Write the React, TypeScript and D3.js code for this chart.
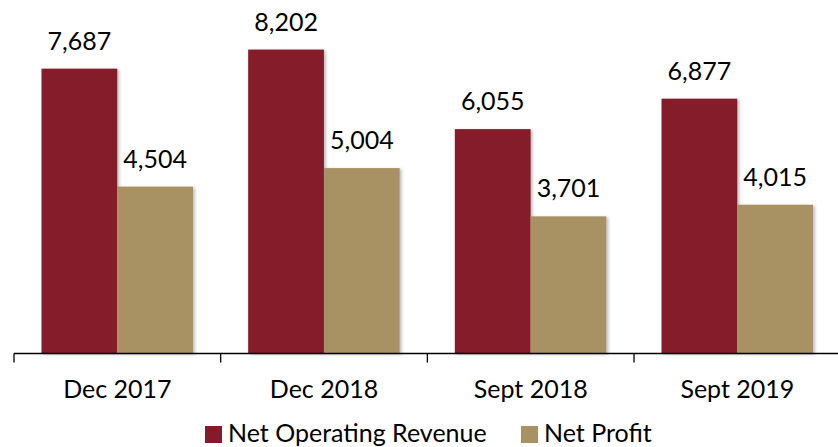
import React, { useEffect, useRef } from 'react';
import * as d3 from 'd3';

const width = 838;
const height = 447;

const categories = ['Dec 2017', 'Dec 2018', 'Sept 2018', 'Sept 2019'];
const seriesNames = ['Net Operating Revenue', 'Net Profit'];
const revenue = [7687, 8202, 6055, 6877];
const profit = [4504, 5004, 3701, 4015];
const colors = ['#841a2a', '#a89263'];

const font = 'Lato, Calibri, sans-serif';

const App: React.FC = () => {
  const ref = useRef<HTMLDivElement>(null);

  useEffect(() => {
    if (!ref.current) return;
    const container = ref.current;

    const svg = d3
      .select(container)
      .append('svg')
      .attr('width', width)
      .attr('height', height)
      .style('position', 'absolute')
      .style('top', 0)
      .style('left', 0);

    const defs = svg.append('defs');
    const filter = defs.append('filter').attr('id', 'shadow').attr('x', '-10%').attr('y', '-10%').attr('width', '130%').attr('height', '130%');
    filter
      .append('feDropShadow')
      .attr('dx', 2)
      .attr('dy', 1)
      .attr('stdDeviation', 1.5)
      .attr('flood-color', '#000')
      .attr('flood-opacity', 0.25);

    const baseline = 353.5;
    const x0 = d3.scaleBand().domain(categories).range([14, 840.7]).paddingInner(0).paddingOuter(0);
    const x1 = d3.scaleBand().domain(seriesNames).range([27.5, 179]);
    const y = d3.scaleLinear().domain([0, 9000]).range([baseline, 20]);

    const data = categories.map((c, i) => ({ cat: c, values: [revenue[i], profit[i]] }));

    const groups = svg
      .selectAll('g.group')
      .data(data)
      .enter()
      .append('g')
      .attr('class', 'group')
      .attr('transform', d => `translate(${x0(d.cat)},0)`);

    groups
      .selectAll('rect')
      .data(d => d.values.map((v, i) => ({ name: seriesNames[i], v, i })))
      .enter()
      .append('rect')
      .attr('x', d => x1(d.name)!)
      .attr('y', d => y(d.v))
      .attr('width', x1.bandwidth())
      .attr('height', d => baseline - y(d.v))
      .attr('fill', d => colors[d.i])
      .attr('filter', 'url(#shadow)');

    groups
      .selectAll('text.val')
      .data(d => d.values.map((v, i) => ({ name: seriesNames[i], v })))
      .enter()
      .append('text')
      .attr('class', 'val')
      .attr('x', d => x1(d.name)! + x1.bandwidth() / 2)
      .attr('y', d => y(d.v) - 19)
      .attr('text-anchor', 'middle')
      .style('font-family', font)
      .style('font-size', '25px')
      .style('fill', '#000')
      .text(d => d3.format(',')(d.v));

    // axis
    const axis = svg.append('g');
    axis
      .append('line')
      .attr('x1', 14)
      .attr('x2', width)
      .attr('y1', baseline)
      .attr('y2', baseline)
      .attr('stroke', '#000')
      .attr('stroke-width', 1.3);
    const edges = categories.map(c => x0(c)!).concat([x0.range()[1]]);
    axis
      .selectAll('line.tick')
      .data(edges)
      .enter()
      .append('line')
      .attr('class', 'tick')
      .attr('x1', d => d)
      .attr('x2', d => d)
      .attr('y1', baseline)
      .attr('y2', baseline + 9)
      .attr('stroke', '#000')
      .attr('stroke-width', 1.3);
    axis
      .selectAll('text')
      .data(categories)
      .enter()
      .append('text')
      .attr('x', d => x0(d)! + x0.bandwidth() / 2)
      .attr('y', 398)
      .attr('text-anchor', 'middle')
      .style('font-family', font)
      .style('font-size', '25px')
      .style('fill', '#000')
      .text(d => d);

    // legend
    const legendX = [205, 521];
    const legend = svg
      .selectAll('g.legend')
      .data(seriesNames)
      .enter()
      .append('g')
      .attr('class', 'legend')
      .attr('transform', (d, i) => `translate(${legendX[i]},426)`);
    legend
      .append('rect')
      .attr('width', 17)
      .attr('height', 17)
      .attr('fill', (d, i) => colors[i]);
    legend
      .append('text')
      .attr('x', 23)
      .attr('y', 16)
      .style('font-family', font)
      .style('font-size', '25px')
      .style('fill', '#000')
      .text(d => d);

    return () => {
      svg.remove();
    };
  }, []);

  return (
    <div
      ref={ref}
      style={{
        position: 'absolute',
        top: 0,
        left: 0,
        width: `${width}px`,
        height: `${height}px`,
      }}
    />
  );
};

export default App;
